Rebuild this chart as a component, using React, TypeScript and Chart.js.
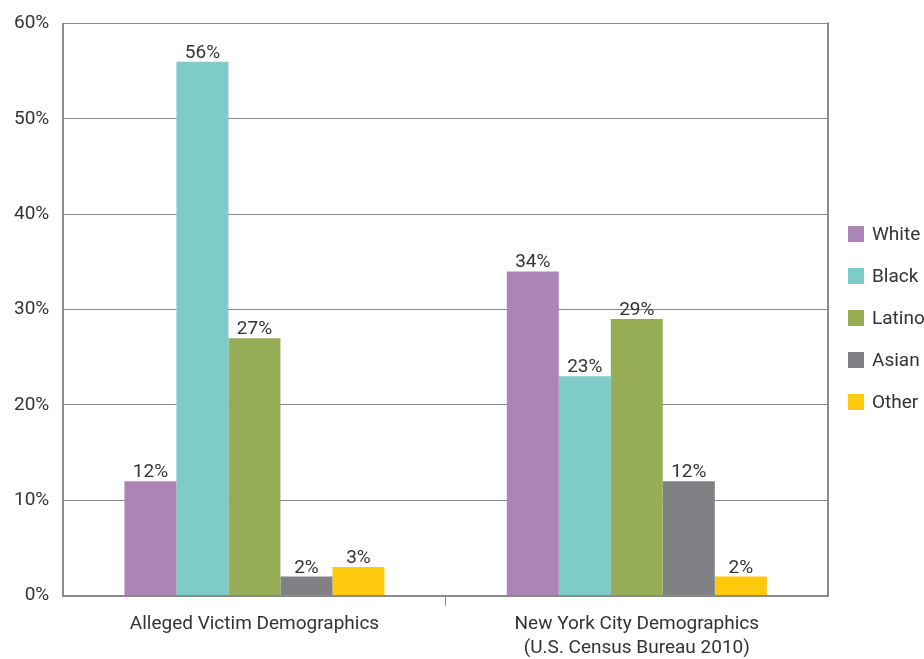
import React, { useEffect, useRef } from "react";
import { Chart, registerables } from "chart.js";

Chart.register(...registerables);

// Category labels (second one wraps onto two lines)
const categories: string[][] = [
  ["Alleged Victim Demographics"],
  ["New York City Demographics", "(U.S. Census Bureau 2010)"],
];

// Series names and their percentages for each category
const seriesNames = ["White", "Black", "Latino", "Asian", "Other"];
const whiteValues = [12, 34];
const blackValues = [56, 23];
const latinoValues = [27, 29];
const asianValues = [2, 12];
const otherValues = [3, 2];

const seriesColors = ["#AC85B8", "#7DCCC7", "#96AC55", "#808184", "#FFC90D"];

// Y axis range and tick spacing (percent)
const yMin = 0;
const yMax = 60;
const yStep = 10;

const FONT = "'Liberation Sans Narrow', 'Arial Narrow', 'Roboto', sans-serif";
const TEXT = "#333333";
const LINE = "#8a8a8a";

// Writes each bar's value above it
const valueLabels = {
  id: "valueLabels",
  afterDatasetsDraw(chart: any) {
    const ctx = chart.ctx;
    ctx.save();
    ctx.font = `19px ${FONT}`;
    ctx.fillStyle = TEXT;
    ctx.textAlign = "center";
    ctx.textBaseline = "alphabetic";
    chart.data.datasets.forEach((ds: any, i: number) => {
      const meta = chart.getDatasetMeta(i);
      meta.data.forEach((el: any, j: number) => {
        ctx.fillText(`${ds.data[j]}%`, el.x, el.y - 4);
      });
    });
    ctx.restore();
  },
};

// Right-hand border of the plot frame
const frameRight = {
  id: "frameRight",
  afterDraw(chart: any) {
    const { ctx, chartArea } = chart;
    ctx.save();
    ctx.strokeStyle = LINE;
    ctx.lineWidth = 2;
    ctx.beginPath();
    ctx.moveTo(chartArea.right, chartArea.top - 1);
    ctx.lineTo(chartArea.right, chartArea.bottom + 1);
    ctx.stroke();
    ctx.restore();
  },
};

// Vertical legend to the right of the plot
const sideLegend = {
  id: "sideLegend",
  afterDraw(chart: any) {
    const { ctx } = chart;
    ctx.save();
    ctx.font = `19px ${FONT}`;
    ctx.textAlign = "left";
    ctx.textBaseline = "middle";
    chart.data.datasets.forEach((ds: any, i: number) => {
      const cy = 234 + i * 42;
      ctx.fillStyle = ds.backgroundColor;
      ctx.fillRect(848, cy - 8, 16, 16);
      ctx.fillStyle = TEXT;
      ctx.fillText(ds.label, 872, cy + 1);
    });
    ctx.restore();
  },
};

export default function App() {
  const canvasRef = useRef<HTMLCanvasElement>(null);

  useEffect(() => {
    if (!canvasRef.current) return;
    const valueSets = [whiteValues, blackValues, latinoValues, asianValues, otherValues];
    const chart = new Chart(canvasRef.current, {
      type: "bar",
      data: {
        labels: categories,
        datasets: seriesNames.map((name, i) => ({
          label: name,
          data: valueSets[i],
          backgroundColor: seriesColors[i],
          borderWidth: 0,
          barPercentage: 1,
          categoryPercentage: 0.68,
        })),
      },
      options: {
        animation: false,
        responsive: false,
        maintainAspectRatio: false,
        layout: { padding: { left: 0, right: 96, top: 4, bottom: -8 } },
        plugins: {
          legend: { display: false },
          tooltip: { enabled: false },
        },
        scales: {
          x: {
            grid: {
              display: true,
              offset: true,
              drawOnChartArea: false,
              drawTicks: true,
              tickLength: 10,
              // only the divider between the two groups gets a tick mark
              color: (c: any) => (c.index === 1 ? LINE : "rgba(0,0,0,0)"),
              lineWidth: 1,
            },
            border: { display: true, color: LINE, width: 2 },
            ticks: {
              color: TEXT,
              font: { family: FONT, size: 19, lineHeight: 1.3 },
              padding: 6,
              maxRotation: 0,
            },
          },
          y: {
            min: yMin,
            max: yMax,
            grid: {
              color: LINE,
              lineWidth: 1,
              drawTicks: false,
            },
            border: { display: true, color: LINE, width: 2 },
            ticks: {
              stepSize: yStep,
              color: TEXT,
              font: { family: FONT, size: 19, lineHeight: 1 },
              padding: 14,
              callback: (v: any) => `${v}%`,
            },
          },
        },
      },
      plugins: [valueLabels, frameRight, sideLegend],
    });
    return () => chart.destroy();
  }, []);

  return (
    <div style={{ position: "absolute", left: 0, top: 0, width: 924, height: 659, background: "#fff" }}>
      <canvas ref={canvasRef} width={924} height={659} />
    </div>
  );
}
